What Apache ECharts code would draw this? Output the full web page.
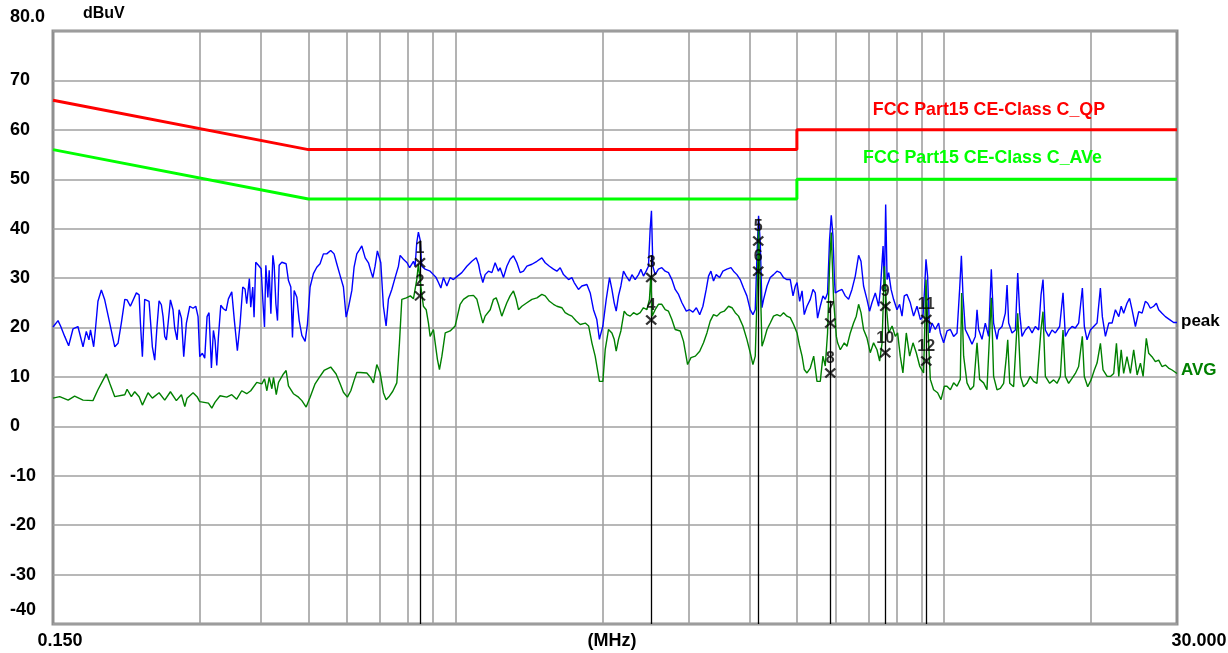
<!DOCTYPE html>
<html>
<head>
<meta charset="utf-8">
<title>Conducted emission scan</title>
<script src="https://cdn.jsdelivr.net/npm/echarts@6/dist/echarts.min.js"></script>
<style>
  html, body { margin: 0; padding: 0; background: #ffffff; }
  #chart { width: 1228px; height: 653px; }
</style>
</head>
<body>
<div id="chart"></div>
<script>
// Frequency in MHz, level in dBuV.

// FCC Part 15 Class C limits
const qpLimit = [[0.15, 66], [0.5, 56], [5, 56], [5, 60], [30, 60]];
const avLimit = [[0.15, 56], [0.5, 46], [5, 46], [5, 50], [30, 50]];

// Peak detector sweep
const peakLow = [
  [0.150,20.1],[0.1536,21.4],[0.1556,20.2],[0.1585,18.2],[0.1615,16.3],[0.1648,19.7],[0.1687,20.2],[0.1728,16.1],
  [0.1755,19.2],[0.1777,17.5],[0.1790,19.5],[0.1817,16.1],[0.1834,20.1],[0.1854,25.3],[0.1884,27.6],[0.1914,25.6],
  [0.1960,20.9],[0.2007,16.1],[0.2038,16.8],[0.2070,20.9],[0.2104,25.7],[0.2127,25.6],[0.2160,24.3],[0.2222,27.0],
  [0.2251,26.6],[0.2265,20.9],[0.2286,14.1],[0.2311,25.7],[0.2359,25.3],[0.2374,21.6],[0.2396,16.1],[0.2423,13.4],
  [0.2449,20.2],[0.2473,25.4],[0.2500,24.6],[0.2520,22.2],[0.2540,18.2],[0.2560,17.5],[0.2581,20.9],[0.2609,25.6],
  [0.2641,23.6],[0.2662,19.9],[0.2692,17.5],[0.2718,23.6],[0.2748,21.9],[0.2778,14.1],[0.2813,20.9],[0.2858,24.3],
  [0.2903,23.9],[0.2940,24.3],[0.2972,22.2],[0.2996,14.1],[0.3033,14.8],[0.3067,13.8],[0.3101,22.2],[0.3130,23.0],
  [0.3165,11.8],[0.3195,19.4],[0.3220,17.4],[0.3246,12.3],[0.3271,18.0],[0.3308,24.5],[0.3349,23.8],[0.3392,23.4],
  [0.3429,25.8],[0.3484,27.2],[0.3527,21.4],[0.3577,15.3],[0.3623,20.7],[0.3669,28.2],[0.3709,27.8],[0.3738,24.8],
  [0.3785,29.9],[0.3810,24.1],[0.3846,28.2],[0.3870,22.1],[0.3901,33.2],[0.3950,32.6],[0.4001,31.9],[0.4033,25.5],
  [0.4065,20.1],[0.4091,32.6],[0.4130,26.1],[0.4156,31.6],[0.4189,22.8],[0.4229,34.6],[0.4255,32.6],[0.4289,24.8],
  [0.4322,21.4],[0.4356,32.6],[0.4411,33.2],[0.4501,32.9],[0.4551,29.5],[0.4602,28.2],[0.4638,18.0],[0.4675,27.5],
  [0.4735,26.1],[0.4787,21.4],[0.4848,18.4],[0.4923,17.2],[0.4977,20.7]
];
const peakMid = [
  [0.5040,28.2],[0.5119,30.9],[0.5201,32.2],[0.5282,32.9],[0.5366,34.9],[0.5451,34.9],[0.5554,35.6],[0.5643,34.9],
  [0.5715,32.9],[0.5806,30.5],[0.5897,28.2],[0.5973,22.1],[0.6040,24.1],[0.6136,27.5],[0.6201,32.2],[0.6281,34.9],
  [0.6359,35.7],[0.6431,36.5],[0.6534,34.1],[0.6636,33.1],[0.6711,31.4],[0.6774,30.1],[0.6846,32.4],[0.6921,35.5],
  [0.7033,33.1],[0.7120,24.3],[0.7211,20.3],[0.7290,25.7],[0.7407,27.7],[0.7524,30.1],[0.7643,32.4],[0.7704,34.6],
  [0.7824,33.8],[0.7960,33.1],[0.8058,32.1],[0.8203,33.4],[0.8268,32.4],[0.8333,37.2],[0.8397,39.3],[0.8464,37.8],
  [0.8531,32.4],[0.8667,31.8],[0.8874,31.4],[0.9014,30.7],[0.9129,30.1],[0.9229,29.1],[0.9335,28.0],[0.9449,30.1],
  [0.9602,28.4],[0.9754,30.1],[0.9905,29.7],[1.0065,30.3],[1.0304,31.1],[1.0552,32.4],[1.0804,33.4],[1.1028,34.1],
  [1.1150,32.8],[1.1235,31.1],[1.1378,29.1],[1.1502,30.7],[1.1685,31.4],[1.1874,31.1],[1.2057,33.1],[1.2244,31.4],
  [1.2340,32.1],[1.2539,30.1],[1.2741,32.4],[1.2939,33.8],[1.3144,34.5],[1.3357,33.1],[1.3566,31.1],[1.3779,31.4],
  [1.4004,32.4],[1.4340,32.8],[1.4683,33.4],[1.5026,34.1],[1.5265,33.1],[1.5574,32.4],[1.5873,31.8],[1.6128,31.4],
  [1.6383,32.1],[1.6641,30.7],[1.7041,29.7],[1.7311,30.1],[1.7500,29.1],[1.7857,27.7],[1.8145,28.4],[1.8581,28.7],
  [1.8875,27.0],[1.9167,23.6],[1.9470,21.6],[1.9711,17.6],[1.9778,18.2],[2.0035,20.3],[2.0354,25.7],[2.0673,30.1],
  [2.0906,27.7],[2.1133,25.0],[2.1334,23.3],[2.1566,26.4],[2.1809,28.4],[2.2080,31.4],[2.2364,30.4],[2.2715,29.4],
  [2.2976,30.7],[2.3333,29.7],[2.3699,30.7],[2.3968,31.8],[2.4258,30.4],[2.4569,31.4],[2.4837,32.4],[2.5036,39.9],
  [2.5191,43.6],[2.5357,32.4],[2.5634,30.7],[2.6031,31.8],[2.6451,32.1],[2.6877,31.4],[2.7294,31.1],[2.7736,29.7],
  [2.8172,27.7],[2.8621,26.7],[2.9081,25.0],[2.9687,23.3],[3.0146,23.6],[3.0632,23.1],[3.1128,24.0],[3.1623,22.6],
  [3.2106,24.3],[3.2610,27.7],[3.2967,30.4],[3.3340,31.4],[3.3752,29.4],[3.4184,30.7],[3.4725,30.1],[3.5280,31.4],
  [3.5953,31.8],[3.6645,32.1],[3.7090,31.4],[3.7689,30.7],[3.8275,29.7],[3.8881,28.0],[3.9500,26.4],[4.0122,23.6],
  [4.0642,22.6],[4.1089,23.6],[4.1423,34.5],[4.1738,42.6],[4.2074,37.2],[4.2413,24.0],[4.2737,25.7],[4.3429,28.4],
  [4.4100,30.1],[4.4788,30.7],[4.5516,31.4],[4.6248,31.1],[4.6950,30.1],[4.7710,29.7],[4.8462,29.7],[4.9097,26.4],
  [4.9630,28.4]
];
const peakHigh = [
  [5.0035,29.1],[5.0657,25.3],[5.1232,27.4],[5.1765,22.6],[5.2431,24.3],[5.3258,25.7],[5.3943,27.7],[5.4523,27.0],
  [5.5123,21.9],[5.5825,24.3],[5.6536,26.4],[5.7152,25.7],[5.7776,27.0],[5.8325,37.8],[5.8795,42.7],[5.9270,38.5],
  [5.9721,29.1],[5.9921,27.0],[6.0875,27.4],[6.1846,27.7],[6.2807,26.4],[6.3800,25.7],[6.4818,27.7],[6.5837,30.4],
  [6.6880,34.6],[6.7642,33.4],[6.8465,28.4],[6.9563,25.7],[7.0424,23.3],[7.1224,25.0],[7.2358,27.0],[7.3509,24.3],
  [7.4104,27.7],[7.5060,36.5],[7.5519,27.7],[7.5983,44.9],[7.6488,29.7],[7.7066,31.1],[7.7945,27.7],[7.8869,25.7],
  [8.0150,23.6],[8.1142,24.7],[8.2072,22.3],[8.2950,26.4],[8.4014,26.7],[8.5343,25.0],[8.6668,22.3],[8.8069,24.3],
  [8.9488,21.6],[9.0596,22.3],[9.1280,27.7],[9.1890,33.8],[9.2588,30.4],[9.3469,18.9],[9.4536,20.9],[9.6010,19.6],
  [9.7521,20.9],[9.8309,18.9],[9.9850,16.9],[10.146,19.3],[10.308,19.6],[10.467,18.2],[10.636,18.9],[10.767,27.7],
  [10.857,34.5],[10.941,26.4],[11.059,19.6],[11.233,18.2],[11.415,16.6],[11.594,18.2],[11.688,23.6],[11.777,19.6],
  [11.965,17.6],[12.153,20.9],[12.344,18.2],[12.502,31.8],[12.638,20.9],[12.841,17.6],[12.941,19.5],[13.149,20.2],
  [13.357,22.9],[13.465,28.6],[13.568,20.9],[13.784,18.9],[14.006,19.5],[14.159,31.0],[14.294,22.9],[14.447,18.2],
  [14.677,19.5],[14.909,20.2],[15.150,18.9],[15.385,20.2],[15.626,19.5],[15.804,26.6],[15.952,29.7],[16.127,19.5],
  [16.381,18.2],[16.643,19.5],[16.906,18.9],[17.253,20.2],[17.531,27.0],[17.723,18.2],[18.001,19.5],[18.290,20.2],
  [18.576,19.9],[18.871,20.9],[19.204,28.0],[19.384,20.2],[19.630,17.5],[19.942,19.5],[20.255,20.2],[20.578,20.9],
  [20.905,28.0],[21.100,22.2],[21.409,18.2],[21.75,20.9],[22.09,20.9],[22.44,23.6],[22.80,22.2],[23.06,24.3],
  [23.33,22.9],[23.70,24.9],[23.99,25.9],[24.27,23.6],[24.66,20.2],[25.05,23.2],[25.45,22.9],[25.84,25.3],
  [26.13,24.9],[26.46,23.9],[26.88,24.3],[27.22,24.9],[27.52,23.6],[27.95,22.9],[28.40,22.2],[28.97,21.6],
  [29.53,21.0],[30.0,21.0]
];

// Average detector sweep
const avgLow = [
  [0.150,5.7],[0.1548,6.0],[0.1611,5.3],[0.1661,6.1],[0.1728,5.3],[0.1811,5.2],[0.1854,7.4],[0.1893,9.1],
  [0.1929,10.6],[0.1960,8.7],[0.2007,6.0],[0.2104,6.4],[0.2127,7.5],[0.2170,6.0],[0.2205,7.0],[0.2251,6.0],
  [0.2286,4.3],[0.2348,6.8],[0.2396,5.7],[0.2473,6.8],[0.2540,5.3],[0.2609,7.0],[0.2683,5.2],[0.2748,6.4],
  [0.2792,4.0],[0.2822,5.7],[0.2903,6.8],[0.2958,6.0],[0.2996,5.0],[0.3121,4.7],[0.3171,3.7],[0.3220,4.9],
  [0.3297,6.2],[0.3402,5.9],[0.3484,6.4],[0.3566,5.5],[0.3651,7.2],[0.3738,6.6],[0.3810,7.2],[0.3920,8.9],
  [0.4015,8.6],[0.4065,9.6],[0.4111,7.2],[0.4156,9.9],[0.4209,7.6],[0.4241,9.9],[0.4297,6.4],[0.4343,8.9],
  [0.4444,10.6],[0.4501,11.3],[0.4551,8.2],[0.4658,6.6],[0.4772,5.9],[0.4848,5.2],[0.4947,3.9]
];
const avgMid = [
  [0.5040,5.9],[0.5160,8.6],[0.5264,9.9],[0.5383,11.3],[0.5554,12.0],[0.5697,10.6],[0.5806,8.6],[0.5897,6.9],
  [0.6008,5.9],[0.6106,7.2],[0.6201,9.3],[0.6281,10.9],[0.6381,10.9],[0.6431,10.5],[0.6585,10.8],[0.6711,9.8],
  [0.6793,8.8],[0.6902,12.5],[0.7012,10.8],[0.7120,6.8],[0.7211,5.4],[0.7324,6.1],[0.7442,7.1],[0.7584,8.8],
  [0.7680,16.9],[0.7766,25.7],[0.7932,26.0],[0.8085,26.4],[0.8203,25.8],[0.8268,25.7],[0.8333,29.7],[0.8397,32.8],
  [0.8491,28.4],[0.8598,24.3],[0.8711,23.6],[0.8805,20.9],[0.8874,18.2],[0.9014,19.6],[0.9088,16.9],[0.9186,13.5],
  [0.9273,11.5],[0.9380,14.2],[0.9529,18.9],[0.9754,19.3],[0.9985,20.3],[1.0093,22.3],[1.0223,24.7],[1.0384,25.7],
  [1.0636,26.4],[1.0886,26.5],[1.1064,25.7],[1.1235,23.0],[1.1378,20.9],[1.1502,22.3],[1.1779,23.6],[1.1962,25.7],
  [1.2116,26.0],[1.2244,24.7],[1.2441,22.3],[1.2581,23.6],[1.2741,25.0],[1.2939,26.4],[1.3144,27.4],[1.3313,25.7],
  [1.3460,23.6],[1.3675,24.3],[1.4004,25.0],[1.4340,25.7],[1.4683,26.0],[1.5026,26.7],[1.5265,26.4],[1.5574,25.3],
  [1.5873,24.7],[1.6128,24.3],[1.6512,24.0],[1.6771,23.0],[1.7041,22.6],[1.7311,22.3],[1.7667,21.3],[1.8008,20.6],
  [1.8440,20.9],[1.8736,20.3],[1.9024,16.9],[1.9320,14.2],[1.9711,9.1],[2.0035,9.1],[2.0256,15.5],[2.0575,19.6],
  [2.0906,18.9],[2.1133,17.6],[2.1334,15.2],[2.1566,17.6],[2.1809,19.3],[2.2153,23.3],[2.2439,22.6],[2.2790,22.3],
  [2.3150,23.0],[2.3522,22.6],[2.3890,23.0],[2.4258,24.0],[2.4649,23.6],[2.4954,25.7],[2.5115,30.4],[2.5275,22.3],
  [2.5634,23.6],[2.6031,24.7],[2.6451,24.7],[2.6877,23.6],[2.7294,23.3],[2.7736,21.6],[2.8172,19.6],[2.8849,19.3],
  [2.9299,17.2],[2.9868,12.5],[3.0350,13.9],[3.0982,14.2],[3.1623,15.2],[3.2198,16.9],[3.2718,18.9],[3.3228,21.3],
  [3.3752,22.6],[3.4296,22.3],[3.4841,23.0],[3.5500,23.3],[3.6232,24.3],[3.6821,24.0],[3.7389,23.0],[3.7976,22.3],
  [3.8766,20.3],[3.9500,17.6],[4.0122,14.9],[4.0642,12.5],[4.1089,14.2],[4.1423,25.7],[4.1738,39.9],[4.2074,29.1],
  [4.2413,16.2],[4.2872,17.6],[4.3429,19.6],[4.4100,20.9],[4.4788,22.3],[4.5516,22.6],[4.6248,22.3],[4.6950,23.0],
  [4.7710,22.3],[4.8462,22.0],[4.9230,20.6]
];
const avgHigh = [
  [5.0035,18.9],[5.0657,16.2],[5.1232,14.2],[5.1765,11.5],[5.2431,10.8],[5.3258,11.8],[5.4120,14.2],[5.4965,9.1],
  [5.5825,9.1],[5.6536,14.2],[5.7152,12.2],[5.7776,18.9],[5.8325,32.4],[5.8795,39.2],[5.9440,25.7],[6.0217,18.2],
  [6.0580,16.9],[6.1352,15.5],[6.2510,16.9],[6.3313,16.2],[6.4310,18.9],[6.5312,20.9],[6.6154,22.3],[6.6880,24.7],
  [6.7642,23.0],[6.8465,19.6],[6.9563,17.9],[7.0657,14.9],[7.1771,16.9],[7.2936,15.5],[7.3852,13.2],[7.4704,16.9],
  [7.5519,32.4],[7.6232,24.3],[7.7066,18.9],[7.8313,20.3],[7.9513,18.2],[8.0377,18.9],[8.1400,14.2],[8.2413,10.8],
  [8.3739,18.9],[8.5072,14.2],[8.6433,16.9],[8.7776,14.9],[8.9198,12.2],[9.0853,10.8],[9.1890,29.7],[9.2762,19.6],
  [9.3788,9.5],[9.5255,7.4],[9.7064,6.8],[9.8629,5.4],[10.017,8.1],[10.146,8.1],[10.308,7.4],[10.467,8.8],
  [10.636,8.1],[10.802,9.5],[10.869,27.0],[10.973,14.2],[11.149,8.8],[11.326,7.4],[11.503,8.1],[11.688,16.9],
  [11.832,9.5],[12.057,8.8],[12.248,7.4],[12.502,26.0],[12.638,10.1],[12.841,7.4],[13.044,7.7],[13.250,8.7],
  [13.422,14.1],[13.508,17.5],[13.636,8.7],[13.888,8.0],[14.159,22.9],[14.345,10.1],[14.558,8.0],[14.79,8.7],
  [15.02,10.1],[15.26,9.1],[15.50,8.7],[15.80,19.5],[15.95,23.2],[16.13,10.1],[16.46,8.7],[16.77,9.4],
  [17.04,8.7],[17.31,10.1],[17.53,19.5],[17.72,10.1],[18.00,8.7],[18.29,9.7],[18.58,10.7],[18.87,12.1],
  [19.20,18.2],[19.38,10.1],[19.69,8.0],[20.01,9.4],[20.32,11.4],[20.58,12.8],[20.91,16.8],[21.17,11.4],
  [21.58,10.1],[21.92,10.1],[22.26,10.7],[22.55,16.8],[22.80,10.1],[23.06,15.5],[23.33,10.7],[23.70,14.1],
  [24.08,10.7],[24.46,15.5],[24.86,10.4],[25.25,12.8],[25.57,10.1],[25.96,17.8],[26.25,14.8],[26.66,14.1],
  [27.09,13.1],[27.52,13.4],[27.95,12.1],[28.40,12.4],[28.83,11.8],[29.31,11.4],[30.0,10.7]
];

// Measurement markers
const markerFreq  = [0.846, 0.846, 2.516, 2.516, 4.167, 4.167, 5.852, 5.852, 7.584, 7.584, 9.201, 9.201];
const markerLevel = [33.1, 26.4, 30.1, 21.5, 37.5, 31.4, 20.9, 10.8, 24.3, 14.9, 21.6, 13.2];
const markerLabel = ['1', '2', '3', '4', '5', '6', '7', '8', '9', '10', '11', '12'];

// Axis ticks and labels
const freqGrid = [0.3, 0.4, 0.5, 0.6, 0.7, 0.8, 0.9, 1, 2, 3, 4, 5, 6, 7, 8, 9, 10, 20];
const freqLabels = [0.15, 30];
const levelMin = -40, levelMax = 80, levelStep = 10;

const FONT = '"Liberation Sans", Arial, Helvetica, sans-serif';
const GRID_COLOR = '#a0a0a0';
const bold = (size, color) => ({ fontFamily: FONT, fontWeight: 'bold', fontSize: size, color: color || '#000' });

const peakTrace = peakLow.concat(peakMid, peakHigh);
const avgTrace = avgLow.concat(avgMid, avgHigh);
const markerData = markerFreq.map((f, i) => [f, markerLevel[i], markerLabel[i]]);

// One stem per marker frequency, from just above the highest label down to the axis
const stemTops = {};
markerFreq.forEach((f, i) => {
  stemTops[f] = Math.max(stemTops[f] === undefined ? -Infinity : stemTops[f], markerLevel[i]);
});
const stems = Object.keys(stemTops).map(k => {
  const f = Number(k);
  return [{ coord: [f, stemTops[k] + 4.5] }, { coord: [f, levelMin] }];
});

const chart = echarts.init(document.getElementById('chart'), null, { renderer: 'canvas' });

chart.setOption({
  animation: false,
  backgroundColor: '#ffffff',
  grid: {
    left: 53, right: 51, top: 31, height: 593,
    outerBoundsMode: 'none', containLabel: false,
    show: true, borderColor: '#8f8f8f', borderWidth: 3, backgroundColor: 'transparent'
  },
  xAxis: {
    type: 'log', logBase: 10, min: 0.15, max: 30,
    name: '(MHz)', nameLocation: 'middle', nameGap: 17, nameMoveOverlap: false,
    nameTextStyle: Object.assign(bold(18), { verticalAlign: 'middle', padding: [0, 6, 0, 0] }),
    axisLine: { show: false },
    axisTick: { show: false, customValues: freqGrid },
    splitLine: { show: true, lineStyle: { color: GRID_COLOR, width: 1.6 } },
    axisLabel: {
      customValues: freqLabels,
      margin: 8,
      formatter: v => (v < 1 ? '{lo|' : '{hi|') + v.toFixed(3) + '}',
      rich: {
        lo: Object.assign(bold(18), { padding: [0, 0, 0, 14] }),
        hi: Object.assign(bold(18), { padding: [0, 0, 0, 44] })
      }
    }
  },
  yAxis: {
    type: 'value', min: levelMin, max: levelMax, interval: levelStep,
    name: 'dBuV', nameLocation: 'end', nameGap: 17, nameMoveOverlap: false,
    nameTextStyle: Object.assign(bold(16), { align: 'left', verticalAlign: 'middle', padding: [0, 0, 0, 30] }),
    axisLine: { show: false },
    axisTick: { show: false },
    splitLine: { show: true, lineStyle: { color: GRID_COLOR, width: 1.6 } },
    axisLabel: {
      align: 'left', margin: 43,
      formatter: v => v === levelMax ? '{e|' + v.toFixed(1) + '}' : v === levelMin ? '{e|' + v + '}' : '{n|' + v + '}',
      rich: {
        e: Object.assign(bold(18), { padding: [0, 0, 28, 0] }),
        n: bold(18)
      }
    }
  },
  series: [
    {
      name: 'FCC Part15 CE-Class C_QP', type: 'line', data: qpLimit,
      symbol: 'none', silent: true, z: 3,
      lineStyle: { color: '#ff0000', width: 3 },
      markPoint: {
        silent: true, symbol: 'circle', symbolSize: 0,
        label: Object.assign(bold(17.8, '#ff0000'), { show: true, position: 'top', distance: 11, formatter: 'FCC Part15 CE-Class C_QP' }),
        data: [{ coord: [12.36, 60] }]
      }
    },
    {
      name: 'FCC Part15 CE-Class C_AVe', type: 'line', data: avLimit,
      symbol: 'none', silent: true, z: 3,
      lineStyle: { color: '#00ff00', width: 3 },
      markPoint: {
        silent: true, symbol: 'circle', symbolSize: 0,
        label: Object.assign(bold(17.8, '#00ff00'), { show: true, position: 'top', distance: 12, formatter: 'FCC Part15 CE-Class C_AVe' }),
        data: [{ coord: [11.99, 50] }]
      }
    },
    {
      name: 'peak', type: 'line', data: peakTrace,
      symbol: 'none', silent: true, z: 4,
      lineStyle: { color: '#0000ff', width: 1.4 },
      endLabel: Object.assign(bold(17), { show: true, formatter: 'peak', distance: 4, offset: [0, -1] })
    },
    {
      name: 'AVG', type: 'line', data: avgTrace,
      symbol: 'none', silent: true, z: 5,
      lineStyle: { color: '#008000', width: 1.4 },
      endLabel: Object.assign(bold(17, '#008000'), { show: true, formatter: 'AVG', distance: 4, offset: [0, -3] })
    },
    {
      name: 'markers', type: 'scatter', data: markerData,
      symbol: 'path://M0,0L10,10M10,0L0,10', symbolSize: [10, 9],
      silent: true, z: 6,
      itemStyle: { color: 'transparent', borderColor: '#000000', borderWidth: 2.2 },
      label: Object.assign(bold(16), { show: true, position: 'top', distance: 1, formatter: p => p.data[2] }),
      markLine: {
        silent: true, symbol: ['none', 'none'],
        label: { show: false },
        lineStyle: { color: '#000000', width: 1.3, type: 'solid' },
        data: stems
      }
    }
  ]
});
</script>
</body>
</html>
